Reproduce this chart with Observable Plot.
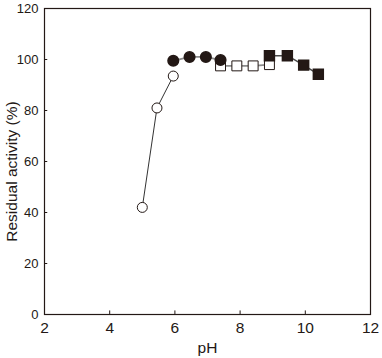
<!DOCTYPE html>
<html><head><meta charset="utf-8">
<script src="https://cdn.jsdelivr.net/npm/d3@7"></script>
<script src="https://cdn.jsdelivr.net/npm/@observablehq/plot@0.6"></script>
<style>body{margin:0;background:#fff;} svg{font-family:"Liberation Sans",Arial,sans-serif;}</style>
</head><body><div id="chart"></div>
<script>
const openCirclePH = [5.0, 5.45, 5.95];
const openCircleAct = [42, 81, 93.5];
const filledCirclePH = [5.95, 6.45, 6.95, 7.4];
const filledCircleAct = [99.5, 101, 101, 99.8];
const openSquarePH = [7.4, 7.9, 8.4, 8.9];
const openSquareAct = [97.5, 97.5, 97.5, 98];
const filledSquarePH = [8.9, 9.45, 9.95, 10.4];
const filledSquareAct = [101.5, 101.5, 97.8, 94.2];
const xTicks = [2, 4, 6, 8, 10, 12];
const yTicks = [0, 20, 40, 60, 80, 100, 120];
const yLabel = ["Residual activity (%)"];

const mk = (xs, ys) => xs.map((x, i) => ({x, y: ys[i]}));
const oc = mk(openCirclePH, openCircleAct);
const fc = mk(filledCirclePH, filledCircleAct);
const os = mk(openSquarePH, openSquareAct);
const fs = mk(filledSquarePH, filledSquareAct);
const ink = "#231815";

const chart = Plot.plot({
  width: 382, height: 358,
  marginLeft: 44, marginRight: 12, marginTop: 8, marginBottom: 44,
  style: {fontSize: "13px", color: ink, fontFamily: "Liberation Sans, Arial, sans-serif"},
  x: {domain: [2, 12], ticks: xTicks},
  y: {domain: [0, 120], ticks: yTicks},
  marks: [
    Plot.axisX({ticks: xTicks, tickSize: 0, tickPadding: 7, label: "pH", labelAnchor: "center", labelArrow: "none", labelOffset: 38, fontSize: 15.5}),
    Plot.axisY({ticks: yTicks, tickSize: 0, tickPadding: 6, label: null}),
    Plot.text(yLabel, {frameAnchor: "left", textAnchor: "middle", rotate: -90, dx: -32, dy: 10, fontSize: 15.5, fill: ink}),
    Plot.ruleX(xTicks, {x: d => d, y1: 0, y2: 1.4, stroke: ink}),
    Plot.ruleY(yTicks, {y: d => d, x1: 2, x2: 2.1, stroke: ink}),
    Plot.line(oc, {x: "x", y: "y", stroke: "#333", strokeWidth: 1}),
    Plot.line(os, {x: "x", y: "y", stroke: "#8c8c8c", strokeWidth: 1.8}),
    Plot.line(fc, {x: "x", y: "y", stroke: "#8c8c8c", strokeWidth: 1.8}),
    Plot.line(fs, {x: "x", y: "y", stroke: "#4a4a4a", strokeWidth: 1.5}),
    Plot.dot(oc, {x: "x", y: "y", r: 5, fill: "white", stroke: ink, strokeWidth: 1}),
    Plot.dot(os, {x: "x", y: "y", symbol: "square", r: 5.6, fill: "white", stroke: ink, strokeWidth: 1}),
    Plot.dot(fc, {x: "x", y: "y", r: 5.3, fill: ink, stroke: ink}),
    Plot.dot(fs, {x: "x", y: "y", symbol: "square", r: 5.6, fill: ink, stroke: ink}),
    Plot.frame({stroke: ink, strokeWidth: 1.2})
  ]
});
document.getElementById("chart").append(chart);
</script></body></html>
